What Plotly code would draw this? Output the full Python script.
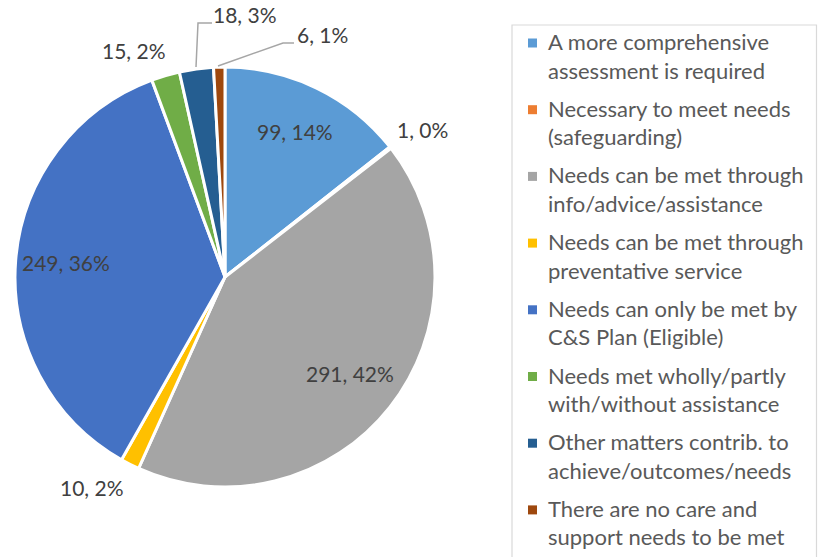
import math
import plotly.graph_objects as go

# ---- data ----
categories = [
    "A more comprehensive assessment is required",
    "Necessary to meet needs (safeguarding)",
    "Needs can be met through info/advice/assistance",
    "Needs can be met through preventative service",
    "Needs can only be met by C&S Plan (Eligible)",
    "Needs met wholly/partly with/without assistance",
    "Other matters contrib. to achieve/outcomes/needs",
    "There are no care and support needs to be met",
]
legend_lines = [
    ["A more comprehensive", "assessment is required"],
    ["Necessary to meet needs", "(safeguarding)"],
    ["Needs can be met through", "info/advice/assistance"],
    ["Needs can be met through", "preventative service"],
    ["Needs can only be met by", "C&S Plan (Eligible)"],
    ["Needs met wholly/partly", "with/without assistance"],
    ["Other matters contrib. to", "achieve/outcomes/needs"],
    ["There are no care and", "support needs to be met"],
]
values = [99, 1, 291, 10, 249, 15, 18, 6]
pct_labels = ["14%", "0%", "42%", "2%", "36%", "2%", "3%", "1%"]
colors = ["#5B9BD5", "#ED7D31", "#A5A5A5", "#FFC000",
          "#4472C4", "#70AD47", "#255E91", "#9E480E"]

# ---- layout geometry ----
W, H = 818, 557
CX, CY, R = 225, 277, 210
FONT = "Lato"
FS_LBL = 21
FS_LEG = 22

def px(x):
    return x / W

def py(y):
    return 1 - y / H

total = sum(values)
labels_txt = [f"{v}, {p}" for v, p in zip(values, pct_labels)]

fig = go.Figure(go.Pie(
    labels=categories,
    values=values,
    sort=False,
    direction="clockwise",
    rotation=0,
    marker=dict(colors=colors, line=dict(color="white", width=3)),
    textinfo="none",
    hoverinfo="label+value+percent",
    showlegend=False,
    domain=dict(x=[px(CX - R), px(CX + R)], y=[py(CY + R), py(CY - R)]),
))

annotations = []
shapes = []

# inside labels for large slices, outside (layout-placed) for small slices
outside_pos = {1: (422, 129), 3: (92, 487), 5: (134, 51), 6: (245, 15), 7: (322, 34)}
cum = 0
for i, v in enumerate(values):
    mid = (cum + v / 2) / total * 2 * math.pi
    cum += v
    if i in outside_pos:
        x, y = outside_pos[i]
    else:
        f = 0.76
        x = CX + math.sin(mid) * R * f
        y = CY - math.cos(mid) * R * f - 2
    annotations.append(dict(
        x=px(x), y=py(y), xref="paper", yref="paper",
        text=labels_txt[i], showarrow=False,
        xanchor="center", yanchor="middle",
        font=dict(family=FONT, size=FS_LBL, color="#404040"),
    ))

# leader lines
line_col = "#A6A6A6"
shapes.append(dict(type="path", xref="paper", yref="paper",
                   path=f"M {px(196)} {py(67)} L {px(198)} {py(23)} L {px(212)} {py(23)}",
                   line=dict(color=line_col, width=1.5)))
shapes.append(dict(type="path", xref="paper", yref="paper",
                   path=f"M {px(218)} {py(66)} L {px(283)} {py(43)} L {px(294)} {py(43)}",
                   line=dict(color=line_col, width=1.5)))

# legend box
shapes.append(dict(type="rect", xref="paper", yref="paper",
                   x0=px(512), x1=px(816.5), y0=py(25), y1=py(575),
                   line=dict(color="#D9D9D9", width=1.2), fillcolor="rgba(0,0,0,0)"))

for i, lines in enumerate(legend_lines):
    y0 = 43 + 66.7 * i
    shapes.append(dict(type="rect", xref="paper", yref="paper",
                       x0=px(528), x1=px(537), y0=py(y0 - 4.5), y1=py(y0 + 4.5),
                       line=dict(width=0), fillcolor=colors[i]))
    for j, t in enumerate(lines):
        annotations.append(dict(
            x=px(546), y=py(y0 + 28.5 * j - 1.5), xref="paper", yref="paper",
            text=t, showarrow=False, xanchor="left", yanchor="middle",
            font=dict(family=FONT, size=FS_LEG, color="#595959"),
        ))

fig.update_layout(
    width=W, height=H,
    margin=dict(l=0, r=0, t=0, b=0),
    paper_bgcolor="white", plot_bgcolor="white",
    annotations=annotations, shapes=shapes,
)

fig.write_html("out.html")
